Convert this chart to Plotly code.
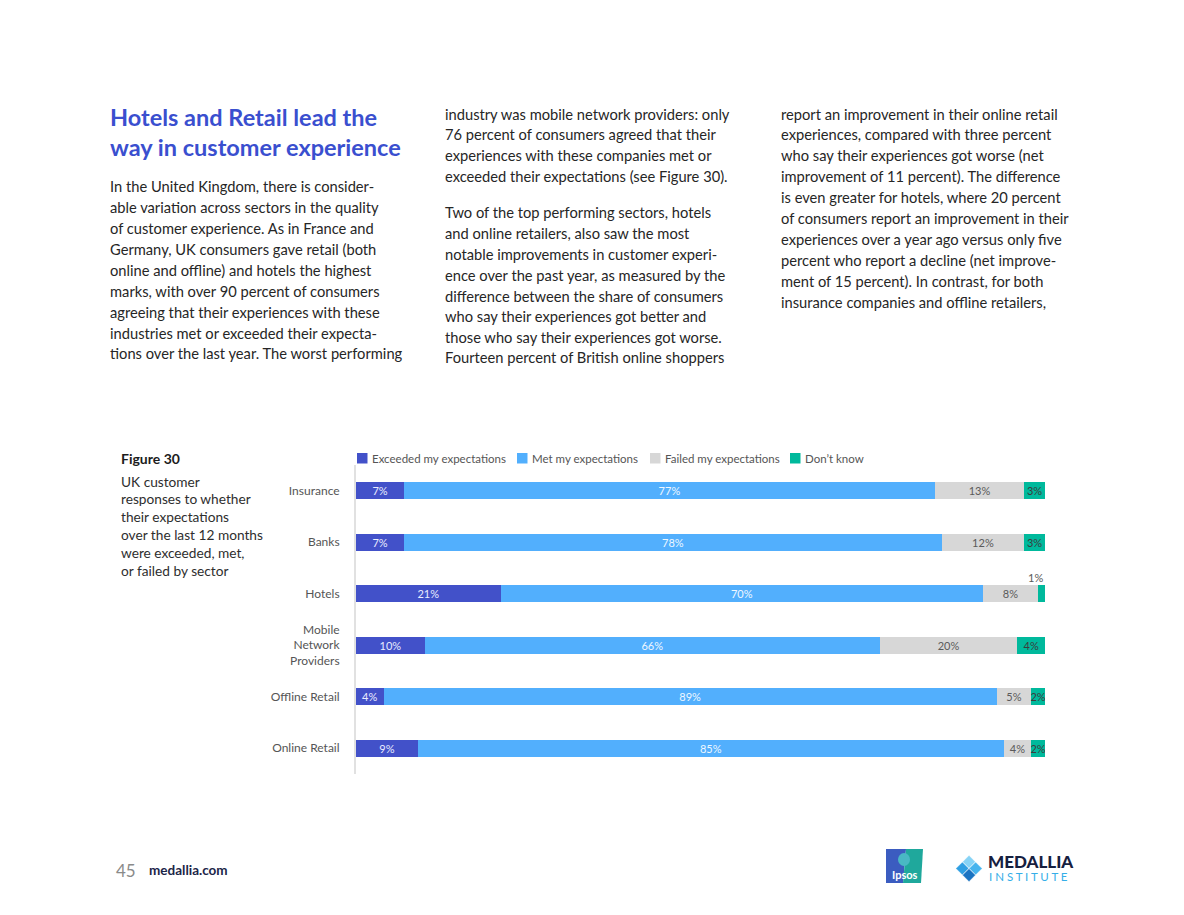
import plotly.graph_objects as go

# ---------------- data ----------------
sectors = ["Insurance", "Banks", "Hotels", "Mobile<br>Network<br>Providers",
           "Offline Retail", "Online Retail"]
series_names = ["Exceeded my expectations", "Met my expectations",
                "Failed my expectations", "Don’t know"]
exceeded = [7, 7, 21, 10, 4, 9]
met = [77, 78, 70, 66, 89, 85]
failed = [13, 12, 8, 20, 5, 4]
dont_know = [3, 3, 1, 4, 2, 2]
series_values = [exceeded, met, failed, dont_know]

# ---------------- style ----------------
FONT = "Lato"
bar_colors = ["#4251c9", "#52affd", "#d7d7d7", "#00b99c"]
label_colors = ["#e9ecff", "#eef7ff", "#5a5a5a", "#3c3c3c"]
HEAD = "#3a4fcf"
BODY = "#262626"
BARGAP = 0.67

W, H = 1184, 915
L, R, T, B = 356, 1045, 465, 774


def px(x):
    return (x - L) / (R - L)


def py(y):
    return (B - y) / (B - T)


fig = go.Figure()
for name, vals, col, tcol in zip(series_names, series_values, bar_colors, label_colors):
    fig.add_trace(go.Bar(
        y=sectors, x=vals, orientation="h", name=name,
        marker=dict(color=col, line=dict(width=0)),
        text=[f"{v}%" if v >= 2 else "" for v in vals],
        textposition="inside", insidetextanchor="middle", textangle=0,
        textfont=dict(family=FONT, size=11, color=tcol),
        hoverinfo="skip", showlegend=False,
    ))

annotations = []
shapes = []


def add_text(x, y, text, size, color, bold=False, xanchor="left", family=FONT):
    if bold:
        text = f"<b>{text}</b>"
    annotations.append(dict(
        xref="paper", yref="paper", x=px(x), y=py(y), text=text,
        showarrow=False, xanchor=xanchor, yanchor="middle",
        font=dict(family=family, size=size, color=color),
    ))


# small-segment labels placed above the bar
for i, s in enumerate(sectors):
    for k, vals in enumerate(series_values):
        if vals[i] < 2:
            end = sum(series_values[j][i] for j in range(k + 1))
            annotations.append(dict(
                xref="x", yref="y", x=end, y=s, text=f"{vals[i]}%",
                showarrow=False, xanchor="right", yanchor="middle", yshift=16,
                font=dict(family=FONT, size=11, color="#5a5a5a"),
            ))

# ---------------- manual legend ----------------
legend_x = [357, 517, 650, 790]
for name, col, lx in zip(series_names, bar_colors, legend_x):
    shapes.append(dict(type="rect", xref="paper", yref="paper",
                       x0=px(lx), x1=px(lx + 10.5), y0=py(463.5), y1=py(453),
                       fillcolor=col, line=dict(width=0)))
    add_text(lx + 13, 458.5, name, 11.5, "#555555")

# ---------------- heading + body text ----------------
add_text(108, 117, "Hotels and Retail lead the", 23.5, HEAD, bold=True)
add_text(108, 147, "way in customer experience", 23.5, HEAD, bold=True)

col1 = [
    (186, "In the United Kingdom, there is consider-"),
    (207, "able variation across sectors in the quality"),
    (228, "of customer experience. As in France and"),
    (249, "Germany, UK consumers gave retail (both"),
    (270, "online and offline) and hotels the highest"),
    (291, "marks, with over 90 percent of consumers"),
    (312, "agreeing that their experiences with these"),
    (333, "industries met or exceeded their expecta-"),
    (353, "tions over the last year. The worst performing"),
]
col2 = [
    (114, "industry was mobile network providers: only"),
    (134, "76 percent of consumers agreed that their"),
    (155, "experiences with these companies met or"),
    (176, "exceeded their expectations (see Figure 30)."),
    (212, "Two of the top performing sectors, hotels"),
    (233, "and online retailers, also saw the most"),
    (254, "notable improvements in customer experi-"),
    (275, "ence over the past year, as measured by the"),
    (296, "difference between the share of consumers"),
    (316, "who say their experiences got better and"),
    (337, "those who say their experiences got worse."),
    (357, "Fourteen percent of British online shoppers"),
]
col3 = [
    (114, "report an improvement in their online retail"),
    (134, "experiences, compared with three percent"),
    (155, "who say their experiences got worse (net"),
    (176, "improvement of 11 percent). The difference"),
    (197, "is even greater for hotels, where 20 percent"),
    (218, "of consumers report an improvement in their"),
    (239, "experiences over a year ago versus only five"),
    (260, "percent who report a decline (net improve-"),
    (281, "ment of 15 percent). In contrast, for both"),
    (302, "insurance companies and offline retailers,"),
]
for y, t in col1:
    add_text(108, y, t, 14.7, BODY)
for y, t in col2:
    add_text(443, y, t, 14.7, BODY)
for y, t in col3:
    add_text(779, y, t, 14.7, BODY)

# ---------------- figure caption ----------------
add_text(119, 458, "Figure 30", 14, "#1c1c1c", bold=True)
caption = ["UK customer", "responses to whether", "their expectations",
           "over the last 12 months", "were exceeded, met,", "or failed by sector"]
for i, t in enumerate(caption):
    add_text(119, 481 + i * 17.8, t, 13.7, "#2e2e2e")

# ---------------- footer ----------------
add_text(114, 870, "45", 17, "#8a8a8a")
add_text(147, 870, "medallia.com", 13.5, "#1b2548", bold=True)

# Ipsos logo
shapes.append(dict(type="path", xref="paper", yref="paper",
                   path=f"M {px(886)} {py(849)} L {px(906)} {py(849)} L {px(903)} {py(883)} L {px(886)} {py(883)} Z",
                   fillcolor="#3b5cc0", line=dict(width=0)))
shapes.append(dict(type="path", xref="paper", yref="paper",
                   path=f"M {px(906)} {py(849)} L {px(923)} {py(849)} L {px(921)} {py(883)} L {px(903)} {py(883)} Z",
                   fillcolor="#1fa89c", line=dict(width=0)))
shapes.append(dict(type="circle", xref="paper", yref="paper",
                   x0=px(898), x1=px(910), y0=py(866), y1=py(853),
                   fillcolor="#49b8c4", line=dict(width=0)))
add_text(904.5, 874, "Ipsos", 11, "#ffffff", bold=True, xanchor="center")

# Medallia diamond (four small diamonds)
cx, cy, d = 969, 868.5, 6.6
diamonds = [(0, -1, "#86d3f6"), (-1, 0, "#2e9fe3"), (1, 0, "#46b4ee"), (0, 1, "#1a73c2")]
for dx, dy, col in diamonds:
    mx, my = cx + dx * d, cy + dy * d
    path = (f"M {px(mx)} {py(my - d)} L {px(mx + d)} {py(my)} "
            f"L {px(mx)} {py(my + d)} L {px(mx - d)} {py(my)} Z")
    shapes.append(dict(type="path", xref="paper", yref="paper", path=path,
                       fillcolor=col, line=dict(width=0.6, color="white")))
annotations.append(dict(xref="paper", yref="paper", x=px(986), y=py(861.5),
                        text="<b>MEDALLIA</b>", showarrow=False, xanchor="left", yanchor="middle",
                        font=dict(family="Lato Black, Lato", size=17, color="#16203f")))
add_text(987, 876, "I N S T I T U T E", 11.5, "#35aee8")

fig.update_layout(
    width=W, height=H,
    margin=dict(l=L, r=W - R, t=T, b=H - B, pad=0),
    paper_bgcolor="white", plot_bgcolor="white",
    barmode="stack", bargap=BARGAP,
    uniformtext=dict(minsize=11, mode="show"),
    font=dict(family=FONT, color="#555555"),
    xaxis=dict(range=[0, 100], visible=False, fixedrange=True),
    yaxis=dict(categoryorder="array", categoryarray=sectors, autorange="reversed",
               showline=True, linecolor="#e1e1e1", linewidth=2, ticks="",
               ticklabelstandoff=12, showgrid=False, zeroline=False,
               tickfont=dict(family=FONT, size=12, color="#555555"),
               layer="below traces", fixedrange=True),
    annotations=annotations, shapes=shapes,
    showlegend=False,
)

fig.write_html("out.html", config={"displayModeBar": False},
               post_script="document.body.style.margin='0';")
